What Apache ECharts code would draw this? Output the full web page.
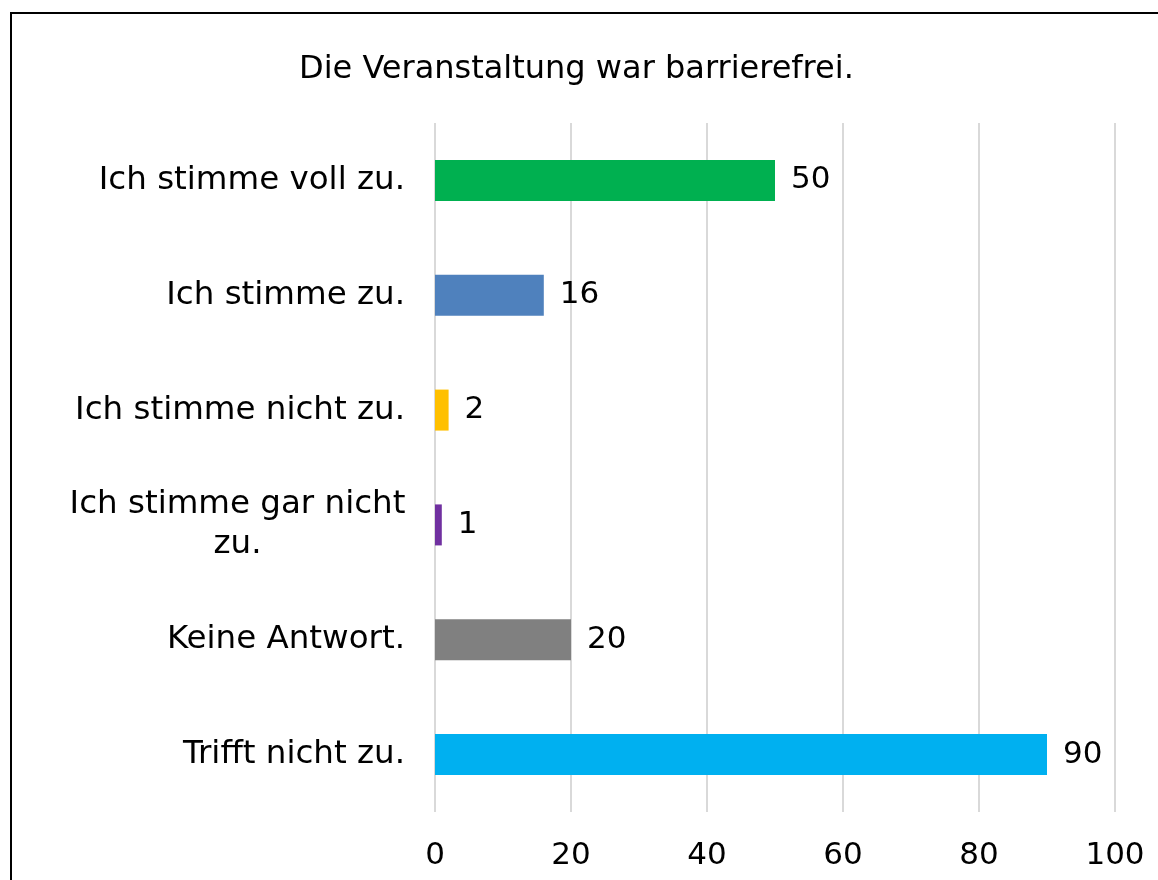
<!DOCTYPE html>
<html>
<head>
    <meta charset="utf-8" />
    <script type="text/javascript" src="https://cdn.jsdelivr.net/npm/echarts@6.0.0/dist/echarts.min.js"></script>
    <style>
      body { margin: 0; background: #fff; }
      #main { width: 1158px; height: 880px; }
    </style>
</head>
<body>
<div id="main"></div>
<script>
// Kategorien und Werte
var categories = ['Ich stimme voll zu.', 'Ich stimme zu.', 'Ich stimme nicht zu.', 'Ich stimme gar nicht zu.', 'Keine Antwort.', 'Trifft nicht zu.'];
var values = [50, 16, 2, 1, 20, 90];
var barColors = ['#00B050', '#4F81BD', '#FFC000', '#7030A0', '#808080', '#00B0F0'];
var xTicks = [0, 20, 40, 60, 80, 100];

var font = 'DejaVu Sans, Verdana, sans-serif';
var myChart = echarts.init(document.getElementById('main'));

var option = {
  animation: false,
  title: {
    text: 'Die Veranstaltung war barrierefrei.',
    left: 294,
    top: 49,
    textStyle: { fontFamily: font, fontSize: 32, fontWeight: 'normal', color: '#000' }
  },
  graphic: [{
    type: 'rect',
    shape: { x: 11, y: 13, width: 1300, height: 1000 },
    style: { fill: 'none', stroke: '#000', lineWidth: 2 }
  }],
  grid: { left: 435, right: 43, top: 123, bottom: 68 },
  xAxis: {
    type: 'value',
    min: xTicks[0],
    max: xTicks[xTicks.length - 1],
    interval: 20,
    axisLine: { show: false },
    axisTick: { show: false },
    splitLine: { lineStyle: { color: '#d9d9d9', width: 2 } },
    axisLabel: { fontFamily: font, fontSize: 31, color: '#000', margin: 28 }
  },
  yAxis: {
    type: 'category',
    inverse: true,
    data: categories,
    axisLine: { show: false },
    axisTick: { show: false },
    axisLabel: {
      fontFamily: font, fontSize: 32.5, color: '#000', margin: 30,
      formatter: function (v) {
        if (v === 'Ich stimme gar nicht zu.') {
          return '{c|Ich stimme gar nicht}\n{c|zu.}';
        }
        return v;
      },
      rich: {
        c: { fontFamily: font, fontSize: 32.5, color: '#000', width: 335, align: 'center', lineHeight: 40 }
      }
    }
  },
  series: [{
    type: 'bar',
    barWidth: 41,
    data: values.map(function (v, i) {
      return { value: v, itemStyle: { color: barColors[i] } };
    }),
    label: {
      show: true,
      position: 'right',
      distance: 16,
      fontFamily: font,
      fontSize: 31,
      color: '#000'
    }
  }]
};

myChart.setOption(option);
</script>
</body>
</html>
